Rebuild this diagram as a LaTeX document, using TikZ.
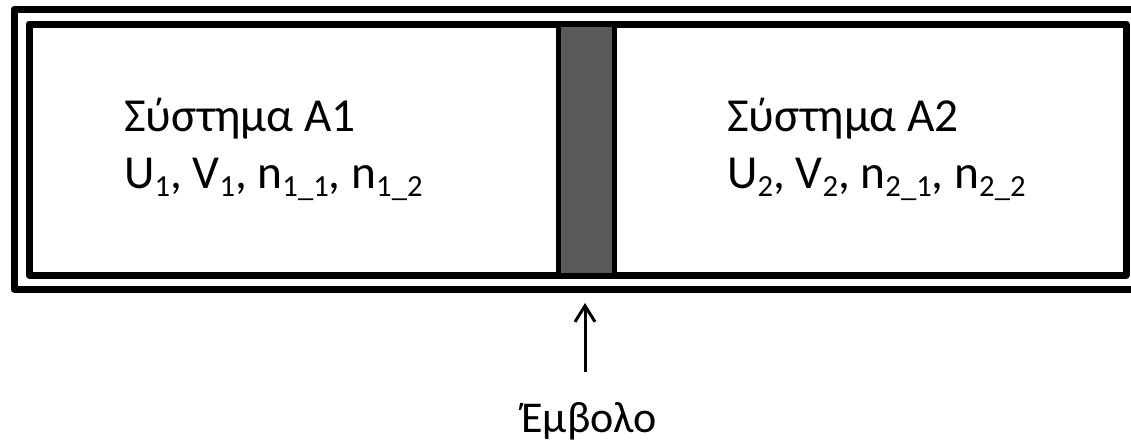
\documentclass[tikz,border=0pt]{standalone}
\usepackage{fontspec}
\setmainfont{Carlito}
\usetikzlibrary{arrows.meta, positioning}
\newcommand{\lowix}[1]{\raisebox{-6.5pt}{\fontsize{23}{23}\selectfont #1}}
\tikzset{
  wall/.style={line width=5.25pt, line join=round},
  pistonbox/.style={draw, line width=3.75pt, fill=black!65},
  systxt/.style={anchor=base west, inner sep=0pt, font=\fontsize{35.5}{40}\selectfont},
}

\begin{document}
\begin{tikzpicture}[x=0.75pt, y=-0.75pt]
  \useasboundingbox (0,0) rectangle (1131,443);
  % cylinder walls
  \draw[wall] (1150,9) -- (14,9) -- (14,289) -- (1150,289);
  \draw[wall] (29,24) rectangle (1126,275);
  % piston
  \draw[pistonbox] (558.5,24) rectangle (614.5,275);
  % systems
  \node[systxt] (sysA) at (124,131) {Σύστημα A1};
  \node[systxt] (varA) at (124,188) {U\lowix{1}, V\lowix{1}, n\lowix{1\_1}, n\lowix{1\_2}};
  \node[systxt] (sysB) at (727,131) {Σύστημα A2};
  \node[systxt] (varB) at (727,188) {U\lowix{2}, V\lowix{2}, n\lowix{2\_1}, n\lowix{2\_2}};
  % piston label
  \node[systxt, anchor=base, font=\fontsize{33}{40}\selectfont] (emb) at (589,432) {Έμβολο};
  \coordinate (tip) at (585,303);
  \draw[-{Straight Barb[length=12pt, width=15pt]}, line width=2.25pt] (585,372) -- (tip);
\end{tikzpicture}
\end{document}
